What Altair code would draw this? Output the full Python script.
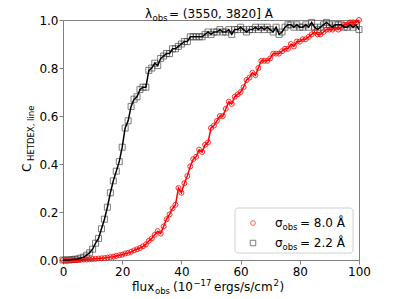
import altair as alt
import pandas as pd

flux = list(range(0, 101))

c_sig22 = [0.0, 0.0, 0.0, 0.002, 0.003, 0.004, 0.008, 0.012, 0.02, 0.03,
           0.045, 0.07, 0.09, 0.13, 0.17, 0.22, 0.28, 0.33, 0.37, 0.41,
           0.47, 0.55, 0.58, 0.64, 0.67, 0.68, 0.71, 0.72, 0.72, 0.79,
           0.80, 0.82, 0.81, 0.84, 0.85, 0.86, 0.86, 0.88, 0.88, 0.89,
           0.90, 0.91, 0.91, 0.93, 0.93, 0.93, 0.93, 0.93, 0.94, 0.95,
           0.94, 0.95, 0.95, 0.96, 0.95, 0.95, 0.96, 0.94, 0.96, 0.96,
           0.97, 0.96, 0.95, 0.96, 0.96, 0.97, 0.96, 0.97, 0.96, 0.97,
           0.96, 0.95, 0.97, 0.94, 0.95, 0.97, 0.98, 0.98, 0.97, 0.98,
           0.97, 0.97, 0.98, 0.97, 0.99, 0.97, 0.96, 0.97, 0.98, 0.99,
           0.98, 0.97, 0.98, 0.98, 0.98, 0.97, 0.97, 0.98, 0.97, 0.98,
           0.96]

c_sig80 = [0.0, 0.0, 0.0, 0.0, 0.0, 0.0, 0.001, 0.002, 0.002, 0.003,
           0.004, 0.005, 0.006, 0.007, 0.008, 0.01, 0.012, 0.014, 0.017, 0.02,
           0.022, 0.027, 0.03, 0.034, 0.04, 0.045, 0.05, 0.057, 0.065, 0.08,
           0.09, 0.105, 0.12, 0.11, 0.14, 0.17, 0.19, 0.215, 0.23, 0.30,
           0.28, 0.32, 0.35, 0.39, 0.42, 0.43, 0.46, 0.45, 0.48, 0.49,
           0.55, 0.56, 0.58, 0.60, 0.60, 0.63, 0.66, 0.65, 0.68, 0.69,
           0.70, 0.72, 0.75, 0.76, 0.78, 0.77, 0.80, 0.83, 0.83, 0.83,
           0.84, 0.86, 0.86, 0.86, 0.87, 0.88, 0.88, 0.90, 0.89, 0.91,
           0.91, 0.92, 0.92, 0.93, 0.94, 0.95, 0.94, 0.94, 0.95, 0.96,
           0.96, 0.96, 0.97, 0.96, 0.97, 0.98, 0.98, 0.99, 0.99, 0.99,
           1.0]

x_ticks = [0, 20, 40, 60, 80, 100]
y_ticks = [0.0, 0.2, 0.4, 0.6, 0.8, 1.0]

FONT = "DejaVu Sans"
W, H = 296, 240

df_black = pd.DataFrame({"flux": flux, "c": c_sig22})
df_red = pd.DataFrame({"flux": flux, "c": c_sig80})

xenc = alt.X("flux:Q", scale=alt.Scale(domain=[0, 100], nice=False),
             axis=alt.Axis(values=x_ticks, format="d", title=None, labelFlush=False))
yenc = alt.Y("c:Q", scale=alt.Scale(domain=[0, 1], nice=False),
             axis=alt.Axis(values=y_ticks, format=".1f", title=None, labelFlush=False))

red_pts = alt.Chart(df_red).mark_point(shape="circle", filled=False, color="red",
                                       size=25, strokeWidth=0.9, opacity=0.9).encode(x=xenc, y=yenc)
red_line = alt.Chart(df_red).mark_line(color="red", strokeWidth=1.5).encode(x=xenc, y=yenc)
blk_pts = alt.Chart(df_black).mark_point(shape="square", filled=False, color="#333333",
                                         size=36, strokeWidth=0.9).encode(x=xenc, y=yenc)
blk_line = alt.Chart(df_black).mark_line(color="black", strokeWidth=1.5).encode(x=xenc, y=yenc)


def txt(s, x, y, size=12, angle=0, color="black"):
    return alt.Chart(pd.DataFrame({"t": [s]})).mark_text(
        text=s, font=FONT, fontSize=size, align="left", baseline="alphabetic",
        angle=angle, color=color
    ).encode(x=alt.value(x), y=alt.value(y))


SUB = 8.5

annotations = [
    # title
    txt("λ", 82, -2),
    txt("obs", 89.5, 0.5, SUB),
    txt("= (3550, 3820] Å", 106, -2),
    # x title
    txt("flux", 69, 271),
    txt("obs", 92, 273.5, SUB),
    txt("(10", 110, 271),
    txt("−17", 130.5, 266, SUB),
    txt("ergs/s/cm", 151, 271),
    txt("2", 210.5, 266, SUB),
    txt(")", 216.5, 271),
    # y title
    txt("C", -32, 152, 12, 270),
    txt("HETDEX, line", -29.5, 141, SUB, 270),
]

legend_box = alt.Chart(pd.DataFrame({"a": [0]})).mark_rect(
    fill="white", stroke="#cccccc", strokeWidth=1, cornerRadius=3, opacity=0.9
).encode(x=alt.value(172), x2=alt.value(290), y=alt.value(188), y2=alt.value(233))

leg_red = alt.Chart(pd.DataFrame({"a": [0]})).mark_point(
    shape="circle", filled=False, color="red", size=22, strokeWidth=0.9
).encode(x=alt.value(190), y=alt.value(203))
leg_blk = alt.Chart(pd.DataFrame({"a": [0]})).mark_point(
    shape="square", filled=False, color="#333333", size=30, strokeWidth=0.9
).encode(x=alt.value(190), y=alt.value(223))

legend_texts = [
    txt("σ", 212, 207),
    txt("obs", 219.5, 209.5, SUB),
    txt("= 8.0 Å", 237, 207),
    txt("σ", 212, 227),
    txt("obs", 219.5, 229.5, SUB),
    txt("= 2.2 Å", 237, 227),
]

chart = alt.layer(
    blk_pts, red_pts, red_line, blk_line, legend_box, leg_red, leg_blk,
    *legend_texts, *annotations
).properties(
    width=W, height=H,
    autosize=alt.AutoSizeParams(type="none"),
    padding={"left": 55, "top": 12, "right": 32, "bottom": 39},
).configure_view(
    stroke="#808080", strokeWidth=1
).configure_axis(
    grid=False, domainColor="#808080", tickColor="#808080", tickSize=4,
    labelFont=FONT, labelFontSize=12, labelColor="black", labelPadding=2,
).configure_axisY(labelPadding=1)

chart.save("out.html", embed_options={"renderer": "svg", "actions": False})
